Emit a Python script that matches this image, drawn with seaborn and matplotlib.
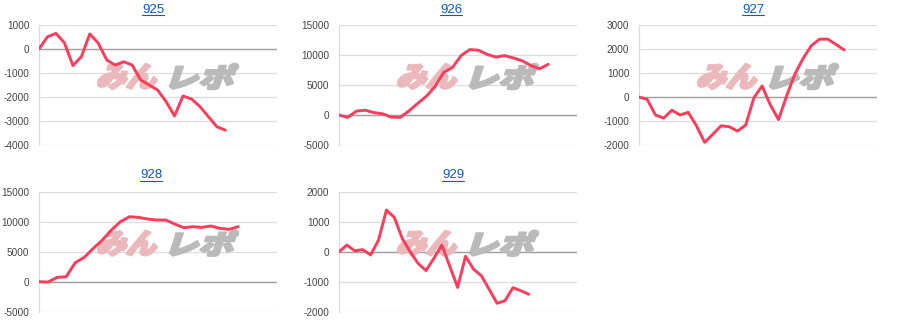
import numpy as np
import pandas as pd
import matplotlib
matplotlib.use('Agg')
import matplotlib.pyplot as plt
import seaborn as sns
from matplotlib.textpath import TextPath
from matplotlib.font_manager import FontProperties
from matplotlib.patches import PathPatch
from matplotlib.transforms import Affine2D
from matplotlib.lines import Line2D

titles = ['925', '926', '927', '928', '929']
s925 = [0, 510, 650, 260, -690, -320, 630, 240, -460, -670, -530, -670, -1290,
        -1500, -1710, -2190, -2790, -1960, -2080, -2400, -2820, -3240, -3380]
s926 = [0, -400, 650, 800, 400, 200, -350, -400, 650, 1900, 3100, 4700, 7100,
        7900, 9900, 10900, 10800, 10100, 9650, 9900, 9500, 9050, 8250, 7700, 8450]
s927 = [0, -100, -750, -880, -550, -750, -640, -1200, -1890, -1550, -1200, -1240,
        -1420, -1170, -30, 460, -330, -940, 60, 960, 1610, 2140, 2410, 2410, 2190, 1960]
s928 = [0, -60, 720, 830, 3170, 4060, 5560, 6940, 8610, 10000, 10830, 10720, 10440,
        10280, 10280, 9610, 9000, 9170, 9060, 9280, 8890, 8720, 9170]
s929 = [0, 220, 30, 70, -110, 390, 1390, 1140, 440, 0, -390, -630, -220, 220, -480,
        -1190, -150, -580, -800, -1260, -1720, -1630, -1200, -1300, -1420]
series = [s925, s926, s927, s928, s929]
y_limits = [(-4000, 1000), (-5000, 15000), (-2000, 3000), (-5000, 15000), (-2000, 2000)]
y_steps = [1000, 5000, 1000, 5000, 1000]
x_spans = [28.1, 27.3, 29.0, 26.3, 30.1]

sns.set_theme(style='white')
plt.rcParams['font.family'] = ['Liberation Sans', 'DejaVu Sans']
plt.rcParams['axes.unicode_minus'] = False

W, H = 900, 332
fig = plt.figure(figsize=(9, 3.32), dpi=100)
positions = [(39, 25), (339, 25), (639, 25), (39, 191.7), (339, 191.7)]
title_pos = [(153, 9.8), (451, 9.8), (753, 9.8), (151, 175.5), (453, 175.5)]
AW, AH = 238, 120

wm_font = FontProperties(family='Noto Sans CJK JP', weight='black')


def add_watermark(ax, left, top):
    shear = np.tan(np.radians(18))
    for text, color, (x0, x1) in [('みん', '#ebb9bb', (57, 123)), ('レポ', '#bababa', (130, 200))]:
        tp = TextPath((0, 0), text, size=100, prop=wm_font)
        ext = tp.get_extents()
        h = 25
        w = (x1 - x0) - shear * h
        tr = (Affine2D().translate(-ext.x0, -ext.y0)
              .scale(w / ext.width, h / ext.height)
              .skew(np.arctan(shear), 0)
              .translate(left + x0, H - (top + 64)))
        p = PathPatch(tp, transform=tr, facecolor=color, edgecolor=color,
                      linewidth=1.8, joinstyle='round', zorder=1.5, clip_on=False)
        ax.add_patch(p)


title_texts = []
for i, s in enumerate(series):
    left, top = positions[i]
    ax = fig.add_axes([left / W, 1 - (top + AH) / H, AW / W, AH / H])
    df = pd.DataFrame({'x': np.arange(len(s)), 'y': s})
    sns.lineplot(data=df, x='x', y='y', ax=ax, color='#fb3c5a', lw=2.1, zorder=3)
    lo, hi = y_limits[i]
    ax.set_xlim(0, x_spans[i])
    ax.set_ylim(lo, hi)
    ax.set_yticks(np.arange(lo, hi + 1, y_steps[i]))
    ax.set_xticks([])
    ax.set_xlabel('')
    ax.set_ylabel('')
    for sp in ['top', 'right', 'bottom']:
        ax.spines[sp].set_visible(False)
    ax.spines['left'].set_color('#dddddd')
    ax.spines['left'].set_linewidth(0.9)
    ax.set_axisbelow(True)
    ax.grid(axis='y', color='#dddddd', lw=0.9)
    ax.axhline(0, color='#a0a0a0', lw=1.0, zorder=1)
    ax.tick_params(axis='y', length=0, pad=7, labelsize=7.2, labelcolor='#444444')
    ax.patch.set_alpha(0)
    add_watermark(ax, left, top)
    cx, cy = title_pos[i]
    t = fig.text(cx / W, 1 - cy / H, titles[i], ha='center', va='center',
                 color='#1155cc', fontsize=9.5)
    title_texts.append((t, cy + 5.5))

fig.canvas.draw()
renderer = fig.canvas.get_renderer()
for t, uy in title_texts:
    bb = t.get_window_extent(renderer)
    fig.add_artist(Line2D([bb.x0 / W, bb.x1 / W], [1 - uy / H, 1 - uy / H],
                          transform=fig.transFigure, color='#1155cc', lw=0.8))

fig.savefig('out.png', dpi=100)
